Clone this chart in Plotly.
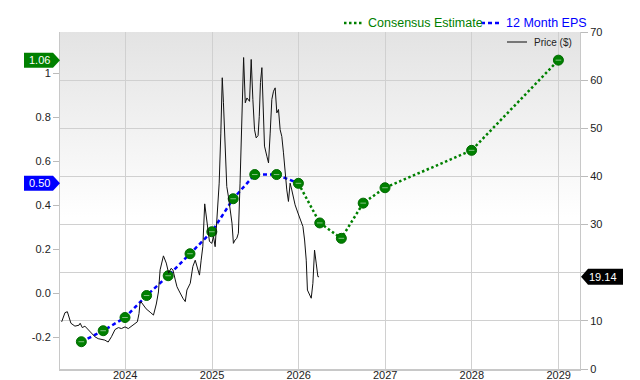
import base64
import plotly.graph_objects as go

# ---------------- data ----------------
eps_dates = ["2023-06-30", "2023-09-30", "2023-12-31", "2024-03-31", "2024-06-30",
             "2024-09-30", "2024-12-31", "2025-03-31", "2025-06-30", "2025-09-30",
             "2025-12-31"]
eps_values = [-0.22, -0.17, -0.11, -0.01, 0.08, 0.18, 0.28, 0.43, 0.54, 0.54, 0.50]

est_dates = ["2025-12-31", "2026-03-31", "2026-06-30", "2026-09-30", "2026-12-31",
             "2027-12-31", "2028-12-31"]
est_values = [0.50, 0.32, 0.25, 0.41, 0.48, 0.65, 1.06]

price_dates = [
    "2023-04-08", "2023-04-22", "2023-05-02", "2023-05-09", "2023-05-17", "2023-06-03",
    "2023-06-20", "2023-06-25", "2023-07-04", "2023-07-15", "2023-07-29", "2023-08-12",
    "2023-08-26", "2023-09-09", "2023-09-23", "2023-10-07", "2023-10-21", "2023-11-04",
    "2023-11-19", "2023-12-03", "2023-12-16", "2023-12-31", "2024-01-14", "2024-01-28",
    "2024-02-11", "2024-02-21", "2024-02-28", "2024-03-03", "2024-03-07", "2024-03-17",
    "2024-03-29", "2024-04-15", "2024-04-29", "2024-05-11", "2024-05-20", "2024-05-27",
    "2024-06-10", "2024-06-22", "2024-07-02", "2024-07-12", "2024-07-20", "2024-07-30",
    "2024-08-06", "2024-08-13", "2024-08-20", "2024-08-31", "2024-09-10", "2024-09-17",
    "2024-10-01", "2024-10-12", "2024-10-22", "2024-11-01", "2024-11-09", "2024-11-16",
    "2024-11-23", "2024-12-01", "2024-12-10", "2024-12-16", "2024-12-21", "2024-12-31",
    "2025-01-07", "2025-01-14", "2025-01-21", "2025-01-31", "2025-02-07", "2025-02-13",
    "2025-02-18", "2025-02-25", "2025-03-04", "2025-03-11", "2025-03-18", "2025-03-26",
    "2025-04-01", "2025-04-08", "2025-04-15", "2025-04-22", "2025-04-29", "2025-05-07",
    "2025-05-14", "2025-05-21", "2025-05-28", "2025-06-08", "2025-06-15", "2025-06-22",
    "2025-06-29", "2025-07-06", "2025-07-14", "2025-07-19", "2025-07-24", "2025-07-30",
    "2025-08-04", "2025-08-10", "2025-08-20", "2025-08-27", "2025-09-03", "2025-09-10",
    "2025-09-17", "2025-09-24", "2025-10-01", "2025-10-08", "2025-10-15", "2025-10-22",
    "2025-10-29", "2025-11-05", "2025-11-12", "2025-11-19", "2025-11-26", "2025-12-03",
    "2025-12-10", "2025-12-17", "2025-12-29", "2026-01-07", "2026-01-19", "2026-01-26",
    "2026-02-02", "2026-02-07", "2026-02-14", "2026-02-23", "2026-03-02", "2026-03-09",
    "2026-03-16", "2026-03-23", "2026-03-28"]
price_values = [
    9.8, 11.7, 11.9, 10.8, 9.5, 8.9,
    9.1, 9.5, 8.6, 8.9, 8.1, 7.4,
    6.7, 6.3, 6.1, 6.0, 5.6, 6.7,
    8.2, 8.6, 8.4, 8.75, 8.4, 8.9,
    9.5, 9.8, 11.5, 13.6, 14.0, 13.3,
    12.5, 11.8, 11.2, 13.5, 16.0, 20.6,
    23.5, 22.0, 19.9, 20.9, 20.6, 18.5,
    17.1, 16.4, 15.7, 14.7, 14.0, 16.4,
    17.8, 21.3, 22.6, 20.6, 19.5, 22.6,
    25.4, 34.3, 31.0, 28.5, 26.5, 26.1,
    27.5, 25.4, 30.3, 38.6, 49.0, 60.5,
    55.3, 45.6, 37.9, 35.8, 33.1, 30.3,
    26.1, 26.8, 27.1, 28.2, 38.6, 52.5,
    64.7, 55.3, 56.3, 55.6, 64.3, 56.0,
    49.7, 48.0, 48.5, 52.5, 59.5, 62.6,
    56.0, 46.3, 44.2, 42.8, 49.0, 56.0,
    57.7, 58.4, 53.2, 53.9, 49.7, 48.3,
    44.9, 40.0, 37.2, 34.8, 38.6, 37.2,
    35.8, 34.1, 32.4, 31.0, 29.6, 26.8,
    22.6, 16.4, 15.7, 14.7, 17.8, 24.7,
    22.0, 19.2, 19.14]

left_tickvals = [-0.2, 0.0, 0.2, 0.4, 0.6, 0.8, 1.0]
left_ticktext = ["-0.2", "0.0", "0.2", "0.4", "0.6", "0.8", "1"]
right_tickvals = [0, 10, 20, 30, 40, 50, 60, 70]
# the "20" label is hidden behind the last-price tag in the reference
right_ticktext = ["0", "10", "", "30", "40", "50", "60", "70"]

last_est_label = "1.06"
last_eps_label = "0.50"
last_price_label = "19.14"

# ---------------- styles ----------------
GREEN = "#008000"
BLUE = "#0000ff"
FONT = "Liberation Sans, Arial, sans-serif"
W, H = 640, 380
ML, MR, MT, MB = 60, 60, 32, 11
PW, PH = W - ML - MR, H - MT - MB


def pxx(p):
    return (p - ML) / PW


def pxy(p):
    return (H - MB - p) / PH


fig = go.Figure()

fig.add_trace(go.Scatter(x=price_dates, y=price_values, yaxis="y2", mode="lines",
                         line=dict(color="#111111", width=1), showlegend=False,
                         hoverinfo="skip"))
fig.add_trace(go.Scatter(x=eps_dates, y=eps_values, mode="lines",
                         line=dict(color=BLUE, width=2.5, dash="4px,3px"),
                         showlegend=False))
fig.add_trace(go.Scatter(x=est_dates, y=est_values, mode="lines",
                         line=dict(color=GREEN, width=2.5, dash="2.5px,2.5px"),
                         showlegend=False))
all_dates = eps_dates + est_dates[1:]
all_values = eps_values + est_values[1:]
fig.add_trace(go.Scatter(x=all_dates, y=all_values, mode="markers",
                         marker=dict(size=10, color=GREEN,
                                     line=dict(color="#006a00", width=1)),
                         showlegend=False))
fig.add_trace(go.Scatter(x=all_dates, y=all_values, mode="markers",
                         marker=dict(size=4, symbol="line-ew",
                                     line=dict(color="rgba(255,255,255,0.5)", width=1)),
                         showlegend=False, hoverinfo="skip"))

# gradient background
svg = ('<svg xmlns="http://www.w3.org/2000/svg" width="10" height="100" '
       'preserveAspectRatio="none"><defs><linearGradient id="g" x1="0" y1="0" x2="0" y2="1">'
       '<stop offset="0" stop-color="#e3e3e3"/><stop offset="0.55" stop-color="#ffffff"/>'
       '</linearGradient></defs><rect width="10" height="100" fill="url(#g)"/></svg>')
src = "data:image/svg+xml;base64," + base64.b64encode(svg.encode()).decode()

shapes = []
annotations = []


def tag_left(val, color, text):
    shapes.append(dict(type="path", xref="paper", yref="y", xsizemode="pixel",
                       ysizemode="pixel", xanchor=0, yanchor=val,
                       path="M0,0 L-7,7.5 L-36,7.5 L-36,-7.5 L-7,-7.5 Z",
                       fillcolor=color, line=dict(width=0), layer="above"))
    annotations.append(dict(x=0, xref="paper", y=val, yref="y", xshift=-21,
                            text=text, showarrow=False, xanchor="center",
                            yanchor="middle",
                            font=dict(family=FONT, size=11, color="white")))


tag_left(est_values[-1], GREEN, last_est_label)
tag_left(eps_values[-1], BLUE, last_eps_label)

shapes.append(dict(type="path", xref="paper", yref="y2", xsizemode="pixel",
                   ysizemode="pixel", xanchor=1, yanchor=price_values[-1],
                   path="M1,0 L8,8 L43,8 L43,-8 L8,-8 Z",
                   fillcolor="black", line=dict(width=0), layer="above"))
annotations.append(dict(x=1, xref="paper", y=price_values[-1], yref="y2", xshift=23,
                        text=last_price_label, showarrow=False, xanchor="center",
                        yanchor="middle",
                        font=dict(family=FONT, size=11, color="white")))

# legend (manual)
shapes.append(dict(type="line", xref="paper", yref="paper", x0=pxx(344), x1=pxx(362),
                   y0=pxy(23), y1=pxy(23),
                   line=dict(color=GREEN, width=2.5, dash="2.5px,2.5px")))
annotations.append(dict(x=pxx(366), y=pxy(23), xref="paper", yref="paper",
                        text="Consensus Estimate", showarrow=False, xanchor="left",
                        yanchor="middle", font=dict(family=FONT, size=12.5, color=GREEN)))
shapes.append(dict(type="line", xref="paper", yref="paper", x0=pxx(481), x1=pxx(501),
                   y0=pxy(23), y1=pxy(23),
                   line=dict(color=BLUE, width=2.5, dash="4px,3px")))
annotations.append(dict(x=pxx(504), y=pxy(23), xref="paper", yref="paper",
                        text="12 Month EPS", showarrow=False, xanchor="left",
                        yanchor="middle", font=dict(family=FONT, size=12.5, color=BLUE)))
shapes.append(dict(type="line", xref="paper", yref="paper", x0=pxx(507), x1=pxx(527),
                   y0=pxy(42), y1=pxy(42), line=dict(color="#777777", width=2)))
annotations.append(dict(x=pxx(532), y=pxy(42), xref="paper", yref="paper",
                        text="Price ($)", showarrow=False, xanchor="left",
                        yanchor="middle", font=dict(family=FONT, size=10, color="#222")))

fig.update_layout(
    width=W, height=H,
    margin=dict(l=ML, r=MR, t=MT, b=MB, pad=0),
    paper_bgcolor="white", plot_bgcolor="rgba(0,0,0,0)",
    font=dict(family=FONT, size=11, color="#222"),
    showlegend=False,
    images=[dict(source=src, xref="paper", yref="paper", x=0, y=1, sizex=1, sizey=1,
                 xanchor="left", yanchor="top", sizing="stretch", layer="below")],
    shapes=shapes, annotations=annotations,
    xaxis=dict(type="date", range=["2023-04-01", "2029-04-01"], dtick="M12",
               tick0="2024-01-01", tickformat="%Y", showgrid=True, gridcolor="#d0d0d0",
               gridwidth=1, showline=True, linecolor="#c8c8c8", linewidth=2,
               ticks="", zeroline=False, automargin=False, ticklabelstandoff=-5,
               tickfont=dict(family=FONT, size=11, color="#222")),
    yaxis=dict(range=[-0.344, 1.188], tickvals=left_tickvals, ticktext=left_ticktext,
               showgrid=False, zeroline=False, showline=True, linecolor="#c8c8c8",
               ticks="outside", ticklen=6, tickcolor="#bbbbbb", automargin=False,
               tickfont=dict(family=FONT, size=11, color="#222")),
    yaxis2=dict(range=[0, 70], tickvals=right_tickvals, ticktext=right_ticktext,
                overlaying="y", side="right",
                showgrid=True, gridcolor="#d0d0d0", zeroline=False, showline=True,
                linecolor="#c8c8c8", ticks="outside", ticklen=7, tickcolor="#bbbbbb",
                automargin=False, tickfont=dict(family=FONT, size=11, color="#222")),
)

fig.write_html("out.html")
